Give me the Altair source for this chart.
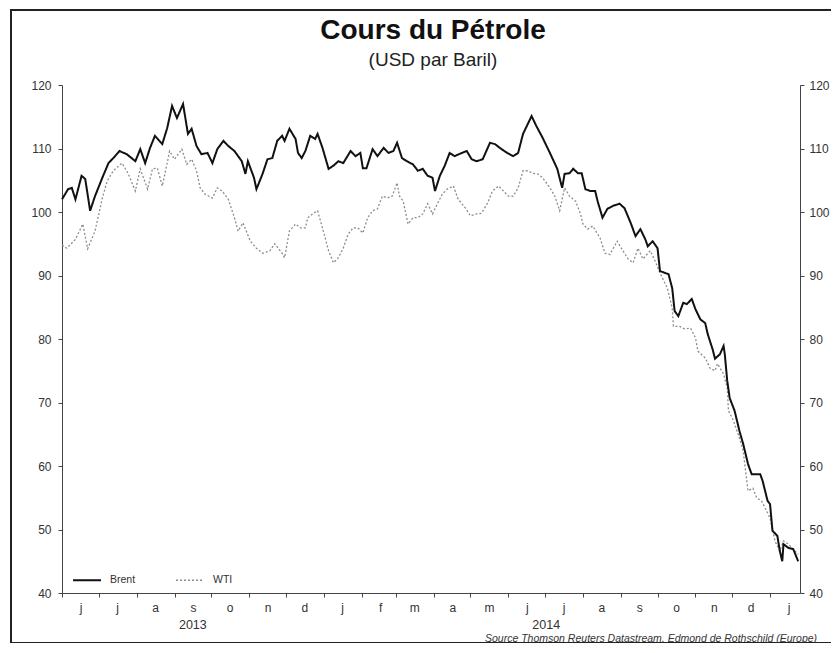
import json
import altair as alt
import pandas as pd

# ---------------- data ----------------
start_date = "2013-06-01"          # day 0 of the offsets below

brent_days = [0,5,8,11,16,19,23,27,33,38,42,47,53,60,64,68,72,76,82,86,
              90,94,99,103,106,110,114,119,123,127,132,136,141,147,150,152,157,159,164,168,
              172,176,180,182,186,191,193,196,199,203,207,209,213,218,222,226,230,236,240,244,
              246,249,254,258,263,267,271,274,278,282,287,291,295,299,303,305,309,313,317,321,
              327,331,335,339,344,350,354,358,364,369,373,377,381,384,388,393,399,405,409,411,
              415,418,422,425,428,432,436,438,442,446,451,456,460,465,469,473,477,479,483,487,
              489,496,499,501,504,508,511,515,518,522,526,528,532,534,538,541,542,544,546,550,
              554,557,561,564,571,573,577,579,581,585,587,589,590,594,598,602]
brent_usd = [102.0,103.6,103.8,102.0,105.7,105.2,100.2,102.5,105.4,107.7,
             108.5,109.6,109.1,108.0,109.9,107.7,110.1,112.0,110.7,113.2,
             116.7,114.8,117.0,112.3,113.1,110.4,109.1,109.3,107.7,109.9,
             111.2,110.4,109.6,108.0,106.0,108.0,105.4,103.6,106.0,108.3,
             108.5,111.2,112.0,111.2,113.1,111.5,109.3,108.5,109.6,112.0,
             111.5,112.3,110.1,106.8,107.3,108.0,107.7,109.6,108.8,109.3,
             106.9,106.9,109.9,108.8,110.1,109.3,109.6,110.9,108.5,108.0,
             107.5,106.5,106.8,105.7,105.4,103.3,105.7,107.3,109.3,108.8,
             109.3,109.6,108.3,108.0,108.3,110.9,110.7,110.1,109.3,108.8,
             109.3,112.3,113.9,115.1,113.5,111.7,109.3,106.8,103.8,106.0,
             106.1,106.8,106.1,106.1,103.6,103.3,103.3,101.7,99.1,100.5,
             101.0,101.3,100.6,98.3,96.2,97.3,95.7,94.6,95.4,94.3,
             90.7,90.2,88.0,84.4,83.6,85.7,85.5,86.3,84.7,83.1,
             82.5,80.8,78.4,76.9,77.6,78.9,77.6,73.4,70.7,68.7,
             65.5,63.5,60.3,58.7,58.7,57.6,54.5,54.0,49.8,49.0,
             46.6,45.0,47.7,47.1,46.9,45.0]

wti_days = [0,4,11,17,21,27,33,37,42,49,54,60,64,70,74,78,82,86,88,92,
            98,102,106,110,113,117,123,127,131,136,141,144,148,154,159,164,170,174,180,182,
            186,191,195,199,201,205,209,213,218,222,226,230,234,238,242,246,250,254,258,262,
            266,270,274,276,279,283,287,291,295,299,303,307,311,315,320,324,330,334,339,343,
            348,352,357,361,365,369,373,377,381,385,389,393,399,403,407,411,415,420,424,426,
            430,434,440,444,448,454,458,463,467,471,475,481,485,489,495,499,500,505,509,514,
            518,520,526,530,534,536,541,544,545,548,550,554,557,561,565,568,572,575,579,583,
            587,590,594,598,602]
wti_usd = [94.8,94.3,95.7,98.1,94.2,97.0,102.2,104.9,106.5,107.7,
           106.1,103.3,106.8,103.6,106.8,106.9,104.1,107.7,109.6,108.3,
           109.9,107.5,108.3,106.5,103.8,102.8,102.2,103.8,103.3,102.0,
           99.1,97.0,98.3,95.4,94.3,93.5,93.9,95.0,93.5,92.8,
           97.0,98.1,97.5,97.5,99.1,99.7,100.2,97.5,93.9,92.0,
           92.8,94.3,96.5,97.5,97.5,96.7,99.1,100.2,100.5,102.5,
           102.2,102.5,104.6,102.5,101.7,98.1,99.1,99.1,99.7,101.3,
           99.7,101.3,102.8,103.6,104.1,102.0,100.6,99.4,99.7,99.8,
           101.4,103.3,104.1,103.3,102.5,102.5,103.8,106.5,106.5,106.1,
           106.0,105.4,103.8,102.5,100.2,103.8,102.5,101.7,99.7,98.1,
           97.3,97.8,95.9,93.5,93.3,95.4,94.1,92.6,92.0,94.3,
           92.6,93.9,92.3,90.4,88.0,84.9,82.0,82.0,81.6,81.7,
           80.2,78.1,77.0,75.4,75.0,76.1,74.5,72.3,68.7,67.6,
           66.6,64.4,62.4,56.1,56.5,55.0,54.5,53.4,51.8,48.2,
           46.6,48.2,47.7,46.9,46.1]

series_names = ["Brent", "WTI"]
month_labels = ["j", "j", "a", "s", "o", "n", "d",
                "j", "f", "m", "a", "m", "j", "j", "a", "s", "o", "n", "d",
                "j"]
year_labels = ["2013", "2014"]
year_centres = ["2013-09-16", "2014-07-02"]
y_ticks = [40, 50, 60, 70, 80, 90, 100, 110, 120]
title_text = "Cours du Pétrole"
subtitle_text = "(USD par Baril)"
source_note = "Source  Thomson Reuters Datastream, Edmond de Rothschild (Europe)"

# ---------------- tables ----------------
t0 = pd.Timestamp(start_date)
df = pd.concat([
    pd.DataFrame({"date": t0 + pd.to_timedelta(wti_days, unit="D"),
                  "price": wti_usd, "series": series_names[1]}),
    pd.DataFrame({"date": t0 + pd.to_timedelta(brent_days, unit="D"),
                  "price": brent_usd, "series": series_names[0]}),
], ignore_index=True)

years_df = pd.DataFrame({"date": pd.to_datetime(year_centres), "label": year_labels})
one_row = pd.DataFrame({"k": [0]})

FONT = "Liberation Sans"
W, H = 738, 508

month_starts = []
y, m = 2013, 6
for _ in month_labels:
    month_starts.append(alt.DateTime(year=y, month=m, date=1))
    m += 1
    if m > 12:
        m, y = 1, y + 1

label_expr = (json.dumps(month_labels) +
              "[(year(datum.value)-2013)*12+month(datum.value)-5]")

x_scale = alt.Scale(domain=[alt.DateTime(year=2013, month=6, date=1),
                            alt.DateTime(year=2015, month=1, date=25, hours=12)])
x_axis = alt.Axis(values=month_starts, labelExpr=label_expr, labelOffset=18.5,
                  labelAlign="center", labelFlush=False, labelOverlap=False,
                  title=None, grid=False, tickSize=4, labelPadding=5,
                  labelFontSize=12, labelColor="#333", domainColor="#444",
                  tickColor="#444", labelFont=FONT)
X = alt.X("date:T", scale=x_scale, axis=x_axis)

y_scale = alt.Scale(domain=[40, 120], nice=False, zero=False)


def y_axis(orient, pad):
    return alt.Axis(orient=orient, values=y_ticks, title=None, grid=False,
                    tickSize=4, labelPadding=pad, labelFontSize=12,
                    labelColor="#333", domainColor="#444", tickColor="#444",
                    labelFont=FONT)


legend = alt.Legend(title=None, orient="none", legendX=10, legendY=480,
                    direction="horizontal", symbolType="stroke",
                    symbolSize=784, labelFontSize=10.5, labelFont=FONT,
                    labelColor="#333", labelOffset=8, columnPadding=37)

lines = alt.Chart(df).mark_line(interpolate="linear").encode(
    x=X,
    y=alt.Y("price:Q", scale=y_scale, axis=y_axis("left", 7)),
    color=alt.Color("series:N", scale=alt.Scale(domain=series_names,
                                                range=["#111111", "#8c8c8c"]),
                    legend=legend),
    strokeDash=alt.StrokeDash("series:N",
                              scale=alt.Scale(domain=series_names,
                                              range=[[1, 0], [2, 2]]),
                              legend=legend),
    strokeWidth=alt.StrokeWidth("series:N",
                                scale=alt.Scale(domain=series_names,
                                                range=[2.0, 1.3]),
                                legend=legend),
    detail="series:N",
)

right_axis = alt.Chart(df).mark_line(strokeOpacity=0).encode(
    x=X,
    y=alt.Y("price:Q", scale=y_scale, axis=y_axis("right", 5)),
    detail="series:N",
)

years = alt.Chart(years_df).mark_text(fontSize=12.5, font=FONT, color="#333",
                                      baseline="middle").encode(
    x=X, y=alt.value(540), text="label:N")

title = alt.Chart(one_row).mark_text(align="center", baseline="alphabetic",
                                     fontSize=28, fontWeight="bold",
                                     font=FONT, color="#111").encode(
    x=alt.value(371), y=alt.value(-46), text=alt.value(title_text))

subtitle = alt.Chart(one_row).mark_text(align="center", baseline="alphabetic",
                                        fontSize=19, font=FONT,
                                        color="#222").encode(
    x=alt.value(371), y=alt.value(-19), text=alt.value(subtitle_text))

source = alt.Chart(one_row).mark_text(align="left", baseline="middle",
                                      fontStyle="italic", fontSize=10.5,
                                      font=FONT, color="#333").encode(
    x=alt.value(423), y=alt.value(554), text=alt.value(source_note))

frame_style = dict(color="#222", strokeWidth=2)
frame_left = alt.Chart(one_row).mark_rule(**frame_style).encode(
    x=alt.value(-51), y=alt.value(-75), y2=alt.value(558))
frame_top = alt.Chart(one_row).mark_rule(**frame_style).encode(
    x=alt.value(-52), x2=alt.value(900), y=alt.value(-75))
frame_bottom = alt.Chart(one_row).mark_rule(**frame_style).encode(
    x=alt.value(-52), x2=alt.value(900), y=alt.value(558))

chart = alt.layer(frame_left, frame_top, frame_bottom, lines, right_axis,
                  years, title, subtitle, source).resolve_axis(
    y="independent").resolve_scale(y="shared").properties(
    width=W, height=H,
    autosize=alt.AutoSizeParams(type="none"),
    padding={"left": 54, "top": 77, "right": 31, "bottom": 50},
    background="white",
).configure_view(stroke="transparent")

chart.save("out.html", embed_options={"renderer": "svg", "actions": False})
